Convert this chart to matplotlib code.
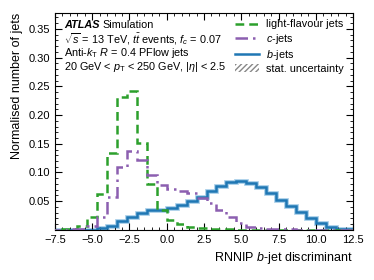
import numpy as np
import matplotlib
matplotlib.use("Agg")
import matplotlib.pyplot as plt
from matplotlib.lines import Line2D
from matplotlib.patches import Patch
from matplotlib.ticker import MultipleLocator

plt.rcParams['font.family'] = ['Liberation Sans', 'DejaVu Sans']
plt.rcParams['mathtext.fontset'] = 'custom'
plt.rcParams['mathtext.rm'] = 'Liberation Sans'
plt.rcParams['mathtext.it'] = 'Liberation Sans:italic'
plt.rcParams['mathtext.bf'] = 'Liberation Sans:bold'

# binning of the discriminant: 32 bins of width 2/3 starting at -8
bin_start = -8.0
bin_width = 2.0 / 3.0
n_bins = 32

light_jets = [0.0, 0.001, 0.002, 0.006, 0.022, 0.062, 0.134, 0.231, 0.242, 0.152,
              0.080, 0.035, 0.017, 0.010, 0.005, 0.003, 0.002, 0.001, 0.001, 0.0005,
              0.0, 0.0, 0.0, 0.0, 0.0, 0.0, 0.0, 0.0, 0.0, 0.0, 0.0, 0.0]
c_jets = [0.0, 0.0, 0.001, 0.002, 0.007, 0.023, 0.057, 0.109, 0.138, 0.121,
          0.095, 0.079, 0.071, 0.067, 0.064, 0.056, 0.047, 0.035, 0.022, 0.012,
          0.005, 0.003, 0.002, 0.001, 0.001, 0.0, 0.0, 0.0, 0.0, 0.0, 0.0, 0.0]
b_jets = [0.0, 0.0, 0.0, 0.0, 0.0, 0.003, 0.007, 0.015, 0.023, 0.030,
          0.035, 0.034, 0.038, 0.044, 0.051, 0.058, 0.067, 0.076, 0.083, 0.085,
          0.082, 0.074, 0.064, 0.052, 0.041, 0.031, 0.020, 0.012, 0.005, 0.002,
          0.001, 0.0]

x_ticks = [-7.5, -5.0, -2.5, 0.0, 2.5, 5.0, 7.5, 10.0, 12.5]
y_ticks = [0.05, 0.10, 0.15, 0.20, 0.25, 0.30, 0.35]

edges = bin_start + bin_width * np.arange(n_bins + 1)

fig = plt.figure(figsize=(3.74, 2.8), dpi=100)
ax = fig.add_axes([0.147, 0.179, 0.797, 0.775])

green = '#2ca02c'
purple = '#8c5fb0'
blue = '#1f77b4'

# light outline standing in for the stat. uncertainty band
ax.stairs(b_jets, edges, color='#a6cde8', lw=3.4, zorder=1)
ax.stairs(light_jets, edges, color=green, lw=1.8, ls=(0, (3.5, 2)), zorder=3)
ax.stairs(c_jets, edges, color=purple, lw=1.8, ls=(0, (5, 2, 1, 2)), zorder=3)
ax.stairs(b_jets, edges, color=blue, lw=1.8, zorder=2)

ax.set_xlim(-7.5, 12.5)
ax.set_ylim(0, 0.378)
ax.set_xticks(x_ticks)
ax.set_yticks(y_ticks)
ax.xaxis.set_minor_locator(MultipleLocator(0.5))
ax.yaxis.set_minor_locator(MultipleLocator(0.01))
ax.tick_params(which='both', direction='in', top=True, right=True, labelsize=8)
ax.tick_params(which='major', length=5)
ax.tick_params(which='minor', length=2.5)
ax.set_xticklabels(['\u22127.5', '\u22125.0', '\u22122.5', '0.0', '2.5', '5.0', '7.5', '10.0', '12.5'])

ax.set_xlabel('RNNIP $b$-jet discriminant', fontsize=9, loc='right')
ax.set_ylabel('Normalised number of jets', fontsize=9, loc='top')

tx = 0.03
fs = 7.8
t = ax.text(tx, 0.945, 'ATLAS', transform=ax.transAxes, fontsize=fs,
            fontweight='bold', fontstyle='italic', va='center')
fig.canvas.draw()
bb = t.get_window_extent().transformed(ax.transAxes.inverted())
ax.text(bb.x1 + 0.01, 0.945, 'Simulation', transform=ax.transAxes,
        fontsize=fs, va='center')
ax.text(tx, 0.878, r'$\sqrt{s}$ = 13 TeV, $t\bar{t}$ events, $f_c$ = 0.07',
        transform=ax.transAxes, fontsize=fs, va='center')
ax.text(tx, 0.813, r'Anti-$k_\mathrm{T}$ $R$ = 0.4 PFlow jets',
        transform=ax.transAxes, fontsize=fs, va='center')
ax.text(tx, 0.752, r'20 GeV < $p_\mathrm{T}$ < 250 GeV, |$\eta$| < 2.5',
        transform=ax.transAxes, fontsize=fs, va='center')

handles = [Line2D([], [], color=green, lw=1.8, ls=(0, (3.5, 2))),
           Line2D([], [], color=purple, lw=1.8, ls=(0, (5, 2, 1, 2))),
           Line2D([], [], color=blue, lw=1.8),
           Patch(facecolor='none', edgecolor='#888888', hatch='//////', lw=0)]
labels = ['light-flavour jets', '$c$-jets', '$b$-jets', 'stat. uncertainty']
ax.legend(handles, labels, loc='upper right', frameon=False, fontsize=7.8,
          handlelength=2.2, handletextpad=0.6, labelspacing=0.2,
          bbox_to_anchor=(1.0, 1.015))

fig.savefig('out.png', dpi=100)
